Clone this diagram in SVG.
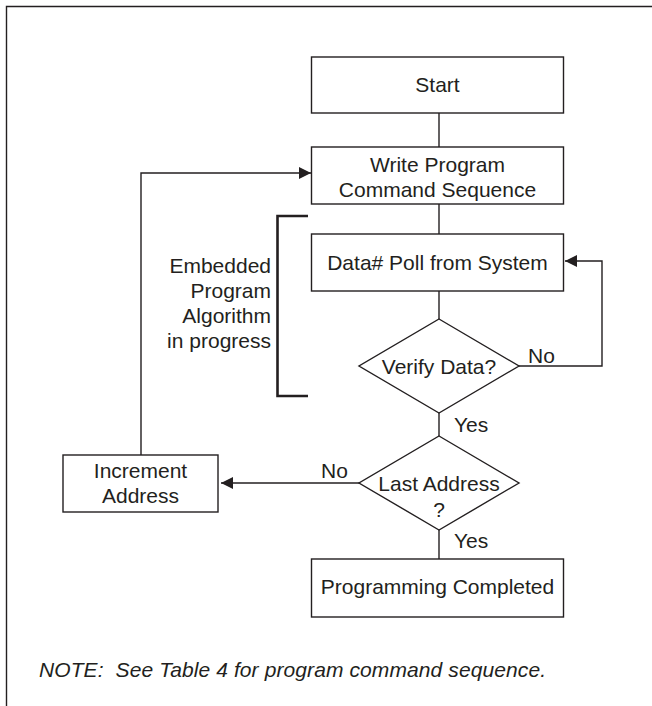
<svg xmlns="http://www.w3.org/2000/svg" width="652" height="706" viewBox="0 0 652 706">
<defs>
<style>
.box{fill:#fff;stroke:#231f20;stroke-width:1.4}
.ln{fill:none;stroke:#231f20;stroke-width:1.4}
.br{fill:none;stroke:#231f20;stroke-width:2.6}
.t{font-family:"Liberation Sans",Arial,sans-serif;font-size:21px;fill:#231f20}
.c{text-anchor:middle}
.r{text-anchor:end}
.i{font-style:italic;white-space:pre}
</style>
<marker id="ah" markerWidth="12" markerHeight="12" refX="12" refY="6" orient="auto" markerUnits="userSpaceOnUse">
<path d="M0,0 L12,6 L0,12 Z" fill="#231f20"/>
</marker>
</defs>
<rect width="652" height="706" fill="#fff"/>
<g id="frame">
<path class="ln" d="M6.5,706 V6.5 H652"/>
</g>
<g id="connectors">
<line class="ln" x1="439" y1="113" x2="439" y2="147"/>
<line class="ln" x1="439" y1="204" x2="439" y2="234"/>
<line class="ln" x1="439" y1="291" x2="439" y2="319"/>
<line class="ln" x1="439" y1="413" x2="439" y2="436"/>
<line class="ln" x1="439" y1="530" x2="439" y2="559"/>
<path class="ln" d="M519,366 H602 V261 H565" marker-end="url(#ah)"/>
<path class="ln" d="M359,483 H221" marker-end="url(#ah)"/>
<path class="ln" d="M141,455 V173 H311" marker-end="url(#ah)"/>
<text class="t" x="528" y="363">No</text>
<text class="t" x="454" y="432">Yes</text>
<text class="t" x="321" y="478">No</text>
<text class="t" x="454" y="548">Yes</text>
</g>
<g id="start">
<rect class="box" x="311.5" y="57" width="252" height="56"/>
<text class="t c" x="437.5" y="92">Start</text>
</g>
<g id="write">
<rect class="box" x="311.5" y="147" width="252" height="57"/>
<text class="t c" x="437.5" y="172">Write Program</text>
<text class="t c" x="437.5" y="197">Command Sequence</text>
</g>
<g id="poll">
<rect class="box" x="311.5" y="234" width="252" height="57"/>
<text class="t c" x="437.5" y="270">Data# Poll from System</text>
</g>
<g id="verify">
<polygon class="box" points="439,319 519,366 439,413 359,366"/>
<text class="t c" x="439" y="374">Verify Data?</text>
</g>
<g id="last">
<polygon class="box" points="439,436 519,483 439,530 359,483"/>
<text class="t c" x="439" y="491">Last Address</text>
<text class="t c" x="439" y="517">?</text>
</g>
<g id="increment">
<rect class="box" x="63" y="455" width="155" height="57"/>
<text class="t c" x="140.5" y="478">Increment</text>
<text class="t c" x="140.5" y="503">Address</text>
</g>
<g id="completed">
<rect class="box" x="311.5" y="559" width="252" height="58"/>
<text class="t c" x="437.5" y="594">Programming Completed</text>
</g>
<g id="embedded">
<path class="br" d="M308,216 H277.5 V396 H308"/>
<text class="t r" x="271" y="273">Embedded</text>
<text class="t r" x="271" y="298">Program</text>
<text class="t r" x="271" y="323">Algorithm</text>
<text class="t r" x="271" y="348">in progress</text>
</g>
<g id="note">
<text class="t i" x="39" y="677" xml:space="preserve" textLength="507" lengthAdjust="spacing">NOTE:  See Table 4 for program command sequence.</text>
</g>
</svg>
